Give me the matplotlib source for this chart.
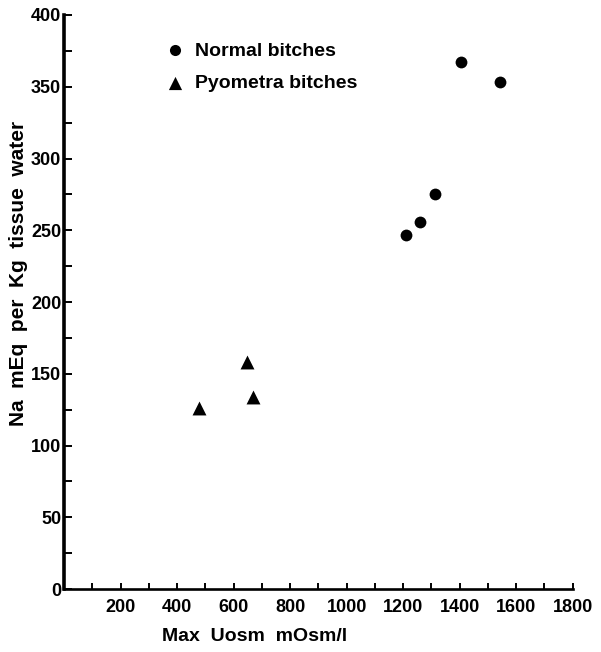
import matplotlib.pyplot as plt
from matplotlib.ticker import MultipleLocator, FixedLocator

# Values
normal_uosm = [1406, 1544, 1314, 1260, 1211]
normal_na = [367, 353, 275, 256, 247]
pyometra_uosm = [647, 667, 476]
pyometra_na = [158, 134, 126]

x_major = [200, 400, 600, 800, 1000, 1200, 1400, 1600, 1800]
y_major = [0, 50, 100, 150, 200, 250, 300, 350, 400]

FONT = ['Liberation Sans Narrow', 'Liberation Sans', 'DejaVu Sans']
plt.rcParams['font.family'] = FONT
plt.rcParams['font.weight'] = 'bold'

fig = plt.figure(figsize=(6.01, 6.52), dpi=100)
ax = fig.add_axes([0.1065, 0.0966, 0.8464, 0.8804])

ax.scatter(normal_uosm, normal_na, s=8.5**2, marker='o', color='black',
           linewidths=0, label='Normal bitches', clip_on=False, zorder=3)
ax.scatter(pyometra_uosm, pyometra_na, s=10**2, marker='^', color='black',
           linewidths=0, label='Pyometra bitches', clip_on=False, zorder=3)

ax.set_xlim(0, 1800)
ax.set_ylim(0, 400)

ax.spines['top'].set_visible(False)
ax.spines['right'].set_visible(False)
ax.spines['left'].set_linewidth(2.6)
ax.spines['bottom'].set_linewidth(1.9)

ax.xaxis.set_major_locator(FixedLocator(x_major))
ax.xaxis.set_minor_locator(MultipleLocator(100))
ax.yaxis.set_major_locator(FixedLocator(y_major))
ax.yaxis.set_minor_locator(MultipleLocator(25))

ax.tick_params(axis='x', which='both', direction='in', length=4, width=1.4, pad=7)
ax.tick_params(axis='y', which='both', direction='in', length=6, width=1.4, pad=2)
for lab in ax.get_xticklabels() + ax.get_yticklabels():
    lab.set_fontsize(13)
    lab.set_fontweight('bold')

ax.set_xlabel('Max  Uosm  mOsm/l', fontsize=14, fontweight='bold')
ax.set_ylabel('Na  mEq  per  Kg  tissue  water', fontsize=15, fontweight='bold')
ax.xaxis.set_label_coords(0.375, -0.068)
ax.yaxis.set_label_coords(-0.07, 0.55)

leg = ax.legend(loc='upper left', bbox_to_anchor=(0.2, 0.953), frameon=False,
                borderpad=0, borderaxespad=0, handlelength=1, handletextpad=0.5,
                labelspacing=0.75, prop={'size': 14, 'weight': 'bold'})
# legend markers about the same size as in the plot
leg.legend_handles[0].set_sizes([8 ** 2])
leg.legend_handles[1].set_sizes([9.5 ** 2])

fig.savefig('out.png', dpi=100)
